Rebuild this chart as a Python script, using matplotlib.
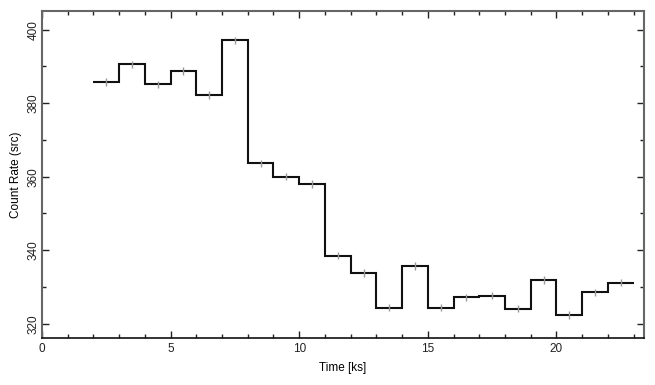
import numpy as np
import matplotlib
matplotlib.use("Agg")
import matplotlib.pyplot as plt
from matplotlib.ticker import MultipleLocator

# light curve bins (ks) and count rates
bin_edges = [2, 3, 4, 5, 6, 7, 8, 9, 10, 11, 12, 13, 14, 15, 16, 17, 18, 19, 20, 21, 22, 23]
rates = [385.8, 390.6, 385.1, 388.8, 382.2, 397.1, 363.6, 360.0, 358.0, 338.5, 333.8,
         324.4, 335.7, 324.4, 327.2, 327.6, 324.1, 331.9, 322.4, 328.5, 331.2]
rate_err = [1.0] * len(rates)

plt.rcParams["font.family"] = ["Liberation Sans", "DejaVu Sans"]

fig = plt.figure(figsize=(6.55, 3.85), dpi=100)
ax = fig.add_axes([0.0641, 0.122, 0.9189, 0.849])

edges = np.array(bin_edges, dtype=float)
centers = 0.5 * (edges[:-1] + edges[1:])
rates = np.array(rates)

ax.stairs(rates, edges, color="#111111", lw=1.5, baseline=None)
ax.errorbar(centers, rates, yerr=rate_err, fmt="none",
            ecolor="#999999", elinewidth=1.0, capsize=0)

ax.set_xlim(0, 23.4)
ax.set_ylim(316.1, 405.05)
ax.xaxis.set_major_locator(MultipleLocator(5))
ax.xaxis.set_minor_locator(MultipleLocator(1))
ax.yaxis.set_major_locator(MultipleLocator(20))
ax.yaxis.set_minor_locator(MultipleLocator(10))
ax.tick_params(which="both", direction="in", top=True, right=True, labelsize=8.5, colors="#222222")
ax.tick_params(which="major", length=5, width=1)
ax.tick_params(which="minor", length=3, width=1)
ax.tick_params(axis="y", pad=2)
for lbl in ax.get_yticklabels():
    lbl.set_rotation(90)
    lbl.set_va("center")

for side in ["left", "right", "top"]:
    ax.spines[side].set_color("#666666")
    ax.spines[side].set_linewidth(1.5)
ax.spines["bottom"].set_color("#111111")
ax.spines["bottom"].set_linewidth(1.2)

ax.set_xlabel("Time [ks]", fontsize=8.5, labelpad=5)
ax.set_ylabel("Count Rate (src)", fontsize=8.5, labelpad=4)

fig.savefig("out.png", dpi=100)
